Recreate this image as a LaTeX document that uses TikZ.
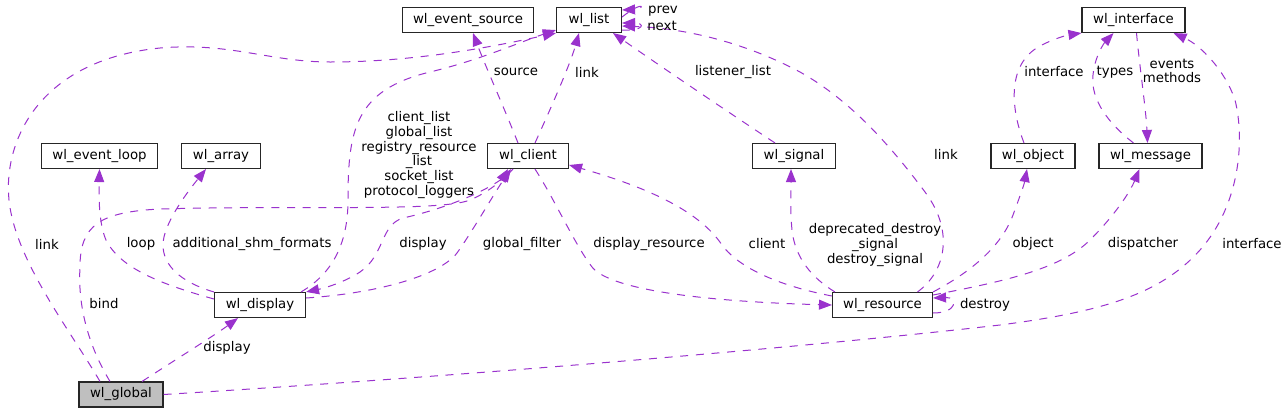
\documentclass[tikz,border=0pt]{standalone}
\usepackage{fontspec}
\setmainfont{DejaVu Sans}
\usetikzlibrary{arrows.meta,calc}
\definecolor{edgec}{HTML}{9A32CD}
\begin{document}
\begin{tikzpicture}[x=1pt,y=-1pt,
  cls/.style={draw=black!85, line width=1.1pt, inner sep=0pt, minimum height=25pt,
    font=\fontsize{13.3}{15}\selectfont},
  e/.style={draw=edgec, line width=1pt, dash pattern=on 8pt off 7.7pt,
    -{Triangle[length=13pt,width=10pt]}},
  lbl/.style={font=\fontsize{13.3}{14.7}\selectfont, align=center, inner sep=0pt}]
\useasboundingbox (0,0) rectangle (1288,413);

% classes
\node[cls, minimum width=131pt] (evsrc) at (468,20) {wl\_event\_source};
\node[cls, minimum width=65pt] (list) at (589,20) {wl\_list};
\node[cls, minimum width=103pt] (iface) at (1133.5,20) {wl\_interface};
\node[cls, minimum width=116pt] (evloop) at (99.5,156) {wl\_event\_loop};
\node[cls, minimum width=79pt] (array) at (221,156) {wl\_array};
\node[cls, minimum width=81pt] (client) at (528,156) {wl\_client};
\node[cls, minimum width=83pt] (signal) at (794,156) {wl\_signal};
\node[cls, minimum width=84pt] (object) at (1033,156) {wl\_object};
\node[cls, minimum width=103pt] (message) at (1150.5,156) {wl\_message};
\node[cls, minimum width=91pt] (display) at (260,305) {wl\_display};
\node[cls, minimum width=100pt] (resource) at (882.5,305) {wl\_resource};
\node[cls, minimum width=84pt, fill=black!25] (global) at (121,394.5) {wl\_global};

% edges
\draw[e] ($(client.north)+(-10,0)$) .. controls (505,110) and (485,65) .. ($(evsrc.south)+(5,0)$);
\draw[e] ($(client.north)+(7,0)$) .. controls (550,110) and (570,65) .. ($(list.south)+(-10,0)$);
\draw[e] ($(signal.north)+(-19,0)$) .. controls (740,120) and (660,66) .. ($(list.south)+(24,0)$);
\draw[e] ($(list.east)+(0,-3)$) .. controls (645,-1) and (645,9) .. ($(list.east)+(0,-10)$);
\draw[e] ($(list.east)+(0,10)$) .. controls (645,31) and (645,23) .. ($(list.east)+(0,3)$);
\draw[e] ($(global.north)+(-21,0)$) .. controls (70,330) and (15,260) .. (9,200)
   .. controls (3,140) and (40,60) .. (160,48) .. controls (230,42) and (270,62) .. (330,62)
   .. controls (420,62) and (500,45) .. (list.south west);
\draw[e] ($(display.north east)+(-5,0)$) .. controls (335,272) and (348,240) .. (348,200)
   .. controls (348,130) and (355,90) .. (430,72) .. controls (480,60) and (520,42) .. ($(list.south west)+(0,-3)$);
\draw[e] ($(client.south)+(-15,0)$) .. controls (495,190) and (440,210) .. (403,218)
   .. controls (380,225) and (385,255) .. (360,272) .. controls (345,282) and (325,288) .. (display.north east);
\draw[e] ($(display.east)+(0,-7)$) .. controls (380,293) and (440,275) .. (457,253)
   .. controls (472,232) and (495,192) .. ($(client.south)+(-17,0)$);
\draw[e] ($(global.north)+(-11,0)$) .. controls (85,340) and (78,300) .. (80,267)
   .. controls (80,225) and (100,212) .. (160,209) .. controls (300,205) and (440,212) .. (470,200)
   .. controls (485,194) and (500,182) .. ($(client.south)+(-20,0)$);
\draw[e] ($(display.west)+(0,-6)$) .. controls (160,284) and (120,268) .. (106,240)
   .. controls (98,222) and (99,190) .. (evloop.south);
\draw[e] (display.north west) .. controls (180,282) and (163,265) .. (163,245)
   .. controls (163,225) and (185,195) .. ($(array.south)+(-15,0)$);
\draw[e] ($(global.north)+(21,0)$) .. controls (175,360) and (215,335) .. ($(display.south)+(-22,0)$);
\draw[e] (global.east) .. controls (450,377) and (800,348) .. (1000,325)
   .. controls (1100,312) and (1160,295) .. (1200,250) .. controls (1240,205) and (1245,140) .. (1235,100)
   .. controls (1225,70) and (1200,45) .. ($(iface.south east)+(-12,0)$);
\draw[e] ($(resource.north)+(35,0)$) .. controls (945,272) and (955,232) .. (925,192)
   .. controls (890,145) and (850,100) .. (800,72) .. controls (740,40) and (680,28) .. ($(list.east)+(0,6)$);
\draw[e] ($(resource.west)+(0,-9)$) .. controls (790,288) and (742,272) .. (722,245)
   .. controls (700,212) and (650,188) .. ($(client.east)+(0,9)$);
\draw[e] ($(client.south)+(7,0)$) .. controls (555,200) and (575,245) .. (592,267)
   .. controls (612,292) and (720,302) .. (resource.west);
\draw[e] ($(resource.north west)+(3,0)$) .. controls (812,278) and (795,258) .. (792,230)
   .. controls (790,210) and (791,190) .. ($(signal.south)+(-3,0)$);
\draw[e] (resource.north east) .. controls (965,275) and (1000,250) .. (1013,215)
   .. controls (1020,196) and (1024,185) .. ($(object.south)+(-6,0)$);
\draw[e] ($(resource.east)+(0,-10)$) .. controls (1000,282) and (1060,270) .. (1090,240)
   .. controls (1115,215) and (1130,192) .. ($(message.south)+(-11,0)$);
\draw[e] ($(resource.east)+(0,8)$) .. controls (958,313) and (958,297) .. ($(resource.east)+(0,-7)$);
\draw[e] ($(object.north)+(-9,0)$) .. controls (1012,112) and (1005,65) .. (1040,46)
   .. controls (1055,38) and (1068,35) .. (iface.south west);
\draw[e] ($(message.north)+(-17,0)$) .. controls (1110,125) and (1090,100) .. (1093,75)
   .. controls (1095,55) and (1105,42) .. ($(iface.south)+(-20,0)$);
\draw[e] ($(iface.south)+(3,0)$) .. controls (1140,70) and (1146,110) .. ($(message.north)+(-3,0)$);

% labels
\node[lbl] (lsource) at (516,72) {source};
\node[lbl] (llink1) at (587,72) {link};
\node[lbl] (llistener) at (733,72) {listener\_list};
\node[lbl] (lprev) at (663,11) {prev};
\node[lbl] (lnext) at (662,26) {next};
\node[lbl] (llists) at (419,155) {client\_list\\global\_list\\registry\_resource\\\_list\\socket\_list\\protocol\_loggers};
\node[lbl] (llink2) at (47,244) {link};
\node[lbl] (lloop) at (141,244) {loop};
\node[lbl] (lshm) at (252,244) {additional\_shm\_formats};
\node[lbl] (ldisplay1) at (423,244) {display};
\node[lbl] (lfilter) at (522,244) {global\_filter};
\node[lbl] (ldispres) at (649,244) {display\_resource};
\node[lbl] (lclient) at (767,244) {client};
\node[lbl] (ldestroysig) at (875,245) {deprecated\_destroy\\\_signal\\destroy\_signal};
\node[lbl] (llink3) at (946,154) {link};
\node[lbl] (lobject) at (1033,244) {object};
\node[lbl] (ldispatcher) at (1143,244) {dispatcher};
\node[lbl] (linterface1) at (1252,244) {interface};
\node[lbl] (ldestroy) at (985,305) {destroy};
\node[lbl] (lbind) at (104,304) {bind};
\node[lbl] (ldisplay2) at (227,348) {display};
\node[lbl] (linterface2) at (1054,72) {interface};
\node[lbl] (ltypes) at (1115,72) {types};
\node[lbl] (levents) at (1172,71) {events\\methods};
\end{tikzpicture}
\end{document}
